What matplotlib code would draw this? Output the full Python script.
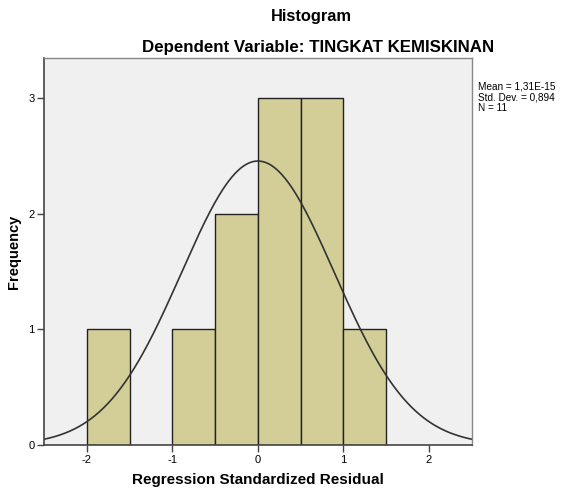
import numpy as np
import matplotlib
matplotlib.use("Agg")
import matplotlib.pyplot as plt

plt.rcParams['font.family'] = ['Liberation Sans', 'DejaVu Sans']

bin_edges = [-2.0, -1.5, -1.0, -0.5, 0.0, 0.5, 1.0, 1.5]
counts = [1, 0, 1, 2, 3, 3, 1]
mean = 1.31e-15
std = 0.894
n = 11
xticks = [-2, -1, 0, 1, 2]
yticks = [0, 1, 2, 3]

fig = plt.figure(figsize=(5.65, 4.96), dpi=100)
ax = fig.add_axes([0.078, 0.103, 0.757, 0.780])
ax.set_facecolor('#F0F0F0')

lefts = bin_edges[:-1]
widths = np.diff(bin_edges)
for l, w, c in zip(lefts, widths, counts):
    if c > 0:
        ax.bar(l, c, width=w, align='edge', color='#D3CE97', edgecolor='#222222', linewidth=1.0)

xs = np.linspace(-2.5, 2.5, 400)
bw = 0.5
ys = n * bw / (std * np.sqrt(2 * np.pi)) * np.exp(-0.5 * ((xs - mean) / std) ** 2)
ax.plot(xs, ys, color='#333333', linewidth=1.2)

ax.set_xlim(-2.5, 2.5)
ax.set_ylim(0, 3.345)
ax.set_xticks(xticks)
ax.set_xticklabels([str(t) for t in xticks])
ax.set_yticks(yticks)
ax.set_yticklabels([str(t) for t in yticks])
ax.tick_params(axis='both', direction='out', length=5, width=1, color='#444444', labelsize=8, pad=2)

for s in ['top', 'right']:
    ax.spines[s].set_color('#888888')
    ax.spines[s].set_linewidth(1)
for s in ['left', 'bottom']:
    ax.spines[s].set_color('#444444')
    ax.spines[s].set_linewidth(1.2)

ax.set_xlabel('Regression Standardized Residual', fontsize=11, fontweight='bold', labelpad=6)
ax.set_ylabel('Frequency', fontsize=10.5, fontweight='bold', labelpad=5)

fig.text(0.551, 0.967, 'Histogram', ha='center', va='center', fontsize=11.8, fontweight='bold')
fig.text(0.563, 0.905, 'Dependent Variable: TINGKAT KEMISKINAN', ha='center', va='center', fontsize=12.2, fontweight='bold')

fig.text(0.846, 0.804, 'Mean = 1,31E-15\nStd. Dev. = 0,894\nN = 11', ha='left', va='center', fontsize=7.2, linespacing=1.05)

fig.savefig('out.png', dpi=100)
